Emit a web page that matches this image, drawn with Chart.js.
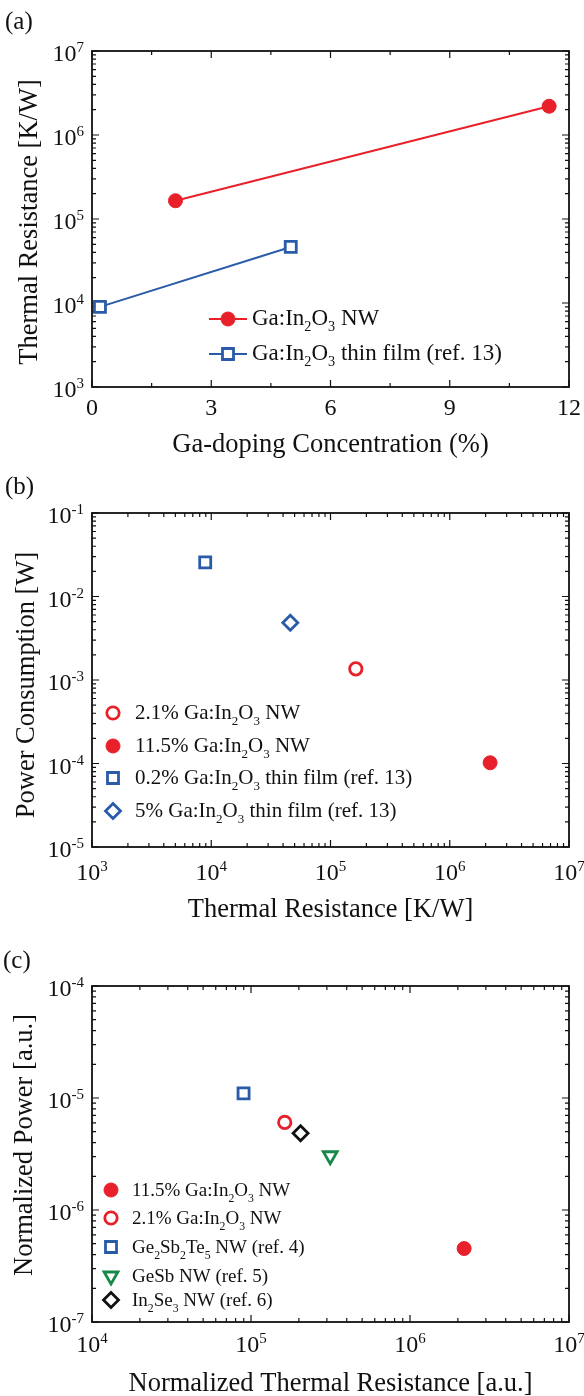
<!DOCTYPE html>
<html>
<head>
<meta charset="utf-8">
<script src="https://cdn.jsdelivr.net/npm/chart.js@4.4.1/dist/chart.umd.min.js"></script>
<style>
  html, body { margin: 0; padding: 0; background: #fff; }
  body { width: 584px; height: 1396px; position: relative; overflow: hidden; }
  canvas { position: absolute; left: 0; }
</style>
</head>
<body>
<canvas id="chart-a" width="584" height="465" style="top:0"></canvas>
<canvas id="chart-b" width="584" height="465" style="top:465px"></canvas>
<canvas id="chart-c" width="584" height="466" style="top:930px"></canvas>
<script>
const FONT = '"Liberation Serif", "Times New Roman", serif';
const RED = '#e8202a', BLUE = '#2a5ba8', GREEN = '#17884a', BLACK = '#111111';

// (a) thermal resistance vs Ga doping
const nwDoping = [2.1, 11.5];
const nwResistance = [1.65e5, 2.2e6];
const filmDoping = [0.2, 5];
const filmResistance = [9.0e3, 4.65e4];
const aLegend = ['Ga:In_2O_3 NW', 'Ga:In_2O_3 thin film (ref. 13)'];
const aXTicks = [0, 3, 6, 9, 12];
const aYExps = [3, 4, 5, 6, 7];

// (b) power consumption vs thermal resistance
const bLegend = ['2.1% Ga:In_2O_3 NW', '11.5% Ga:In_2O_3 NW', '0.2% Ga:In_2O_3 thin film (ref. 13)', '5% Ga:In_2O_3 thin film (ref. 13)'];
const bResistance = [1.63e5, 2.18e6, 8.9e3, 4.6e4];
const bPower = [1.36e-3, 1.02e-4, 2.56e-2, 4.86e-3];
const bXExps = [3, 4, 5, 6, 7];
const bYExps = [-5, -4, -3, -2, -1];

// (c) normalized power vs normalized thermal resistance
const cLegend = ['11.5% Ga:In_2O_3 NW', '2.1% Ga:In_2O_3 NW', 'Ge_2Sb_2Te_5 NW (ref. 4)', 'GeSb NW (ref. 5)', 'In_2Se_3 NW (ref. 6)'];
const cResistance = [2.19e6, 1.63e5, 8.98e4, 3.15e5, 2.05e5];
const cPower = [4.53e-7, 6.05e-6, 1.1e-5, 3.05e-6, 4.85e-6];
const cXExps = [4, 5, 6, 7];
const cYExps = [-7, -6, -5, -4];

// marker looks
const fullCircle = { shape: 'circle', color: RED, fill: true, r: 7 };
const openCircle = { shape: 'circle', color: RED, fill: false, r: 6.2 };
const openSquare = { shape: 'rect', color: BLUE, fill: false, r: 7.8 };
const openDiamond = { shape: 'rectRot', color: BLUE, fill: false, r: 7.5 };
const blackDiamond = { shape: 'rectRot', color: BLACK, fill: false, r: 7.5 };
const greenTriangle = { shape: 'triangle', color: GREEN, fill: false, r: 8, rot: 180 };

function pts(xs, ys) {
  return xs.map((x, i) => ({ x: x, y: ys[i] }));
}

function pointOpts(st) {
  return {
    pointStyle: st.shape,
    pointRadius: st.r,
    pointHoverRadius: st.r,
    pointRotation: st.rot || 0,
    pointBackgroundColor: st.fill ? st.color : '#fff',
    pointBorderColor: st.color,
    pointBorderWidth: st.fill ? 1 : 2.8
  };
}

function drawMarker(ctx, st, x, y) {
  const r = st.r;
  ctx.save();
  ctx.beginPath();
  if (st.shape === 'circle') {
    ctx.arc(x, y, r, 0, Math.PI * 2);
  } else if (st.shape === 'rect') {
    const s = r * Math.SQRT1_2;
    ctx.rect(x - s, y - s, 2 * s, 2 * s);
  } else if (st.shape === 'rectRot') {
    ctx.moveTo(x - r, y); ctx.lineTo(x, y - r); ctx.lineTo(x + r, y); ctx.lineTo(x, y + r);
    ctx.closePath();
  } else if (st.shape === 'triangle') {
    let a = (st.rot || 0) * Math.PI / 180;
    for (let k = 0; k < 3; k++) {
      const px = x + Math.sin(a) * r, py = y - Math.cos(a) * r;
      if (k) ctx.lineTo(px, py); else ctx.moveTo(px, py);
      a += Math.PI * 2 / 3;
    }
    ctx.closePath();
  }
  ctx.fillStyle = st.fill ? st.color : '#fff';
  ctx.fill();
  ctx.lineWidth = st.fill ? 1 : 2.8;
  ctx.strokeStyle = st.color;
  ctx.stroke();
  ctx.restore();
}

// "_2" means a subscript 2
function drawRich(ctx, str, x, y, size) {
  const parts = str.split(/_(\d)/);
  let cx = x;
  ctx.textAlign = 'left';
  parts.forEach((p, i) => {
    if (!p) return;
    const sub = i % 2 === 1;
    ctx.font = (sub ? size * 0.62 : size) + 'px ' + FONT;
    ctx.fillText(p, cx, sub ? y + size * 0.3 : y);
    cx += ctx.measureText(p).width;
  });
}

function drawPow(ctx, exp, x, y, align) {
  ctx.textAlign = 'left';
  ctx.font = '24px ' + FONT;
  const w1 = ctx.measureText('10').width;
  ctx.font = '15px ' + FONT;
  const sup = String(exp);
  const w2 = ctx.measureText(sup).width;
  const left = align === 'right' ? x - w1 - w2 : x - (w1 + w2) / 2;
  ctx.font = '24px ' + FONT;
  ctx.fillText('10', left, y);
  ctx.font = '15px ' + FONT;
  ctx.fillText(sup, left + w1, y - 9);
}

function logMarks(exps) {
  const out = [];
  exps.forEach((e, i) => {
    out.push([Math.pow(10, e), true]);
    if (i < exps.length - 1) {
      for (let k = 2; k < 10; k++) out.push([k * Math.pow(10, e), false]);
    }
  });
  return out;
}

function linMarks(ticks) {
  const out = [];
  ticks.forEach((t, i) => {
    out.push([t, true]);
    if (i < ticks.length - 1) out.push([(t + ticks[i + 1]) / 2, false]);
  });
  return out;
}

const framePlugin = {
  id: 'frame',
  beforeDatasetsDraw(chart, args, o) {
    const { ctx, chartArea: a } = chart;
    const x = chart.scales.x, y = chart.scales.y;
    ctx.save();
    ctx.strokeStyle = BLACK;
    ctx.lineWidth = 1.2;
    ctx.beginPath();
    const xm = o.xLog ? logMarks(o.xTicks) : linMarks(o.xTicks);
    xm.forEach(([v, major]) => {
      const px = x.getPixelForValue(v), len = major ? 7 : 4;
      ctx.moveTo(px, a.bottom); ctx.lineTo(px, a.bottom - len);
      ctx.moveTo(px, a.top); ctx.lineTo(px, a.top + len);
    });
    logMarks(o.yTicks).forEach(([v, major]) => {
      const py = y.getPixelForValue(v), len = major ? 7 : 4;
      ctx.moveTo(a.left, py); ctx.lineTo(a.left + len, py);
      ctx.moveTo(a.right, py); ctx.lineTo(a.right - len, py);
    });
    ctx.stroke();
    ctx.lineWidth = 1.8;
    ctx.strokeRect(a.left, a.top, a.right - a.left, a.bottom - a.top);
    ctx.restore();
  },
  afterDraw(chart, args, o) {
    const { ctx, chartArea: a } = chart;
    const x = chart.scales.x, y = chart.scales.y;
    ctx.save();
    ctx.fillStyle = BLACK;
    ctx.textBaseline = 'alphabetic';

    ctx.font = '25px ' + FONT;
    ctx.textAlign = 'left';
    ctx.fillText(o.panel, o.panelX, o.panelY);

    // tick labels
    o.xTicks.forEach(t => {
      if (o.xLog) {
        drawPow(ctx, t, x.getPixelForValue(Math.pow(10, t)), o.xTickY, 'center');
      } else {
        ctx.font = '24px ' + FONT;
        ctx.textAlign = 'center';
        ctx.fillText(String(t), x.getPixelForValue(t), o.xTickY);
      }
    });
    o.yTicks.forEach(t => {
      drawPow(ctx, t, a.left - 8, y.getPixelForValue(Math.pow(10, t)) + 10, 'right');
    });

    // axis titles
    ctx.font = '26.5px ' + FONT;
    ctx.textAlign = 'center';
    ctx.fillText(o.xTitle, (a.left + a.right) / 2, o.xTitleY);
    ctx.save();
    ctx.translate(o.yTitleX, (a.top + a.bottom) / 2 + o.yTitleDy);
    ctx.rotate(-Math.PI / 2);
    ctx.fillText(o.yTitle, 0, 0);
    ctx.restore();

    // legend
    const lg = o.legend;
    chart.data.datasets.forEach((ds, i) => {
      const ly = lg.ys[i];
      if (lg.line) {
        ctx.save();
        ctx.strokeStyle = lg.styles[i].color;
        ctx.lineWidth = 2;
        ctx.beginPath();
        ctx.moveTo(lg.line[0], ly); ctx.lineTo(lg.line[1], ly);
        ctx.stroke();
        ctx.restore();
      }
      drawMarker(ctx, lg.styles[i], lg.x, ly);
      ctx.fillStyle = BLACK;
      drawRich(ctx, ds.label, lg.textX, ly + lg.dy, lg.size);
    });
    ctx.restore();
  }
};

function makeChart(id, datasets, xType, xMin, xMax, yMin, yMax, pad, deco) {
  return new Chart(document.getElementById(id), {
    type: 'scatter',
    data: { datasets: datasets },
    options: {
      responsive: false,
      animation: false,
      events: [],
      layout: { padding: pad },
      scales: {
        x: { type: xType, min: xMin, max: xMax, display: false },
        y: { type: 'logarithmic', min: yMin, max: yMax, display: false }
      },
      plugins: { legend: { display: false }, tooltip: { enabled: false }, frame: deco }
    },
    plugins: [framePlugin]
  });
}

// panel (a)
const aStyles = [fullCircle, openSquare];
makeChart('chart-a', [
  Object.assign({ label: aLegend[0], data: pts(nwDoping, nwResistance), showLine: true, borderColor: RED, borderWidth: 2 }, pointOpts(fullCircle)),
  Object.assign({ label: aLegend[1], data: pts(filmDoping, filmResistance), showLine: true, borderColor: BLUE, borderWidth: 2 }, pointOpts(openSquare))
], 'linear', aXTicks[0], aXTicks[aXTicks.length - 1], 1e3, 1e7,
  { left: 92, top: 51, right: 15, bottom: 78 },
  {
    panel: '(a)', panelX: 5, panelY: 29,
    xLog: false, xTicks: aXTicks, yTicks: aYExps, xTickY: 415,
    xTitle: 'Ga-doping Concentration (%)', xTitleY: 452,
    yTitle: 'Thermal Resistance [K/W]', yTitleX: 37, yTitleDy: 3,
    legend: { styles: aStyles, x: 228, textX: 252, ys: [319, 354], dy: 5.5, size: 23, line: [209, 247] }
  });

// panel (b)
const bStyles = [openCircle, fullCircle, openSquare, openDiamond];
makeChart('chart-b', bLegend.map((label, i) =>
  Object.assign({ label: label, data: [{ x: bResistance[i], y: bPower[i] }] }, pointOpts(bStyles[i]))
), 'logarithmic', 1e3, 1e7, 1e-5, 1e-1,
  { left: 92, top: 48, right: 15, bottom: 83 },
  {
    panel: '(b)', panelX: 5, panelY: 29,
    xLog: true, xTicks: bXExps, yTicks: bYExps, xTickY: 415,
    xTitle: 'Thermal Resistance [K/W]', xTitleY: 452,
    yTitle: 'Power Consumption [W]', yTitleX: 34, yTitleDy: 5,
    legend: { styles: bStyles, x: 113, textX: 135, ys: [248, 281, 313, 346], dy: 6, size: 21 }
  });

// panel (c)
const cStyles = [fullCircle, openCircle, openSquare, greenTriangle, blackDiamond];
makeChart('chart-c', cLegend.map((label, i) =>
  Object.assign({ label: label, data: [{ x: cResistance[i], y: cPower[i] }] }, pointOpts(cStyles[i]))
), 'logarithmic', 1e4, 1e7, 1e-7, 1e-4,
  { left: 92, top: 56, right: 15, bottom: 74 },
  {
    panel: '(c)', panelX: 3, panelY: 38,
    xLog: true, xTicks: cXExps, yTicks: cYExps, xTickY: 422,
    xTitle: 'Normalized Thermal Resistance [a.u.]', xTitleY: 461,
    yTitle: 'Normalized Power [a.u.]', yTitleX: 32, yTitleDy: -9,
    legend: { styles: cStyles, x: 111, textX: 132, ys: [260, 288, 317, 346, 370], dy: 6, size: 19 }
  });
</script>
</body>
</html>
